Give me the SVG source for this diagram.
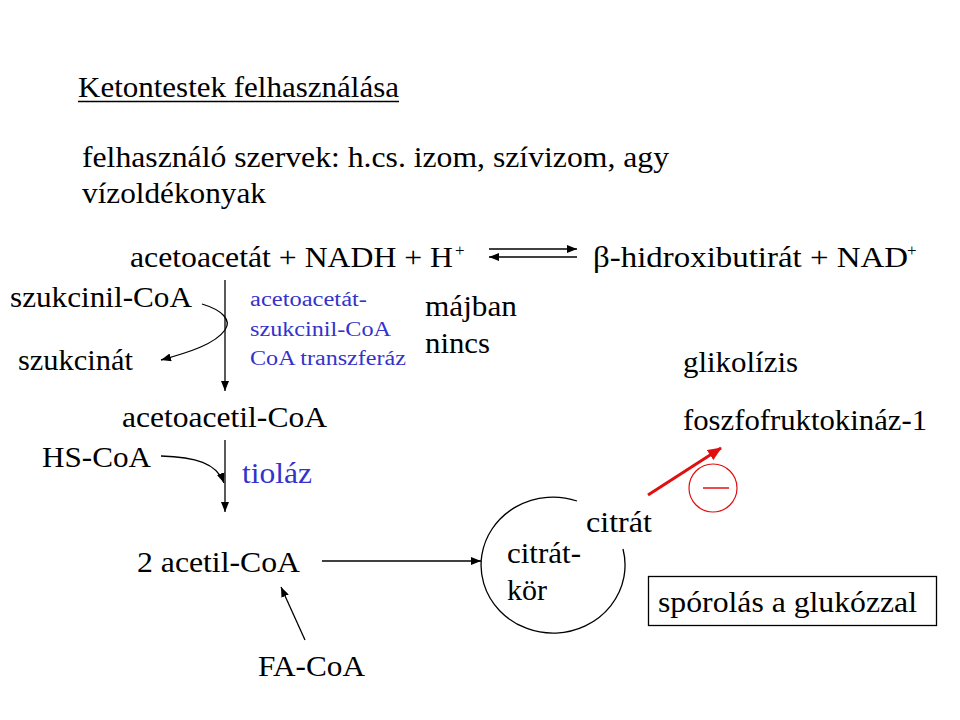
<svg xmlns="http://www.w3.org/2000/svg" width="960" height="720" viewBox="0 0 960 720">
<defs>
<style>
text{font-family:'Liberation Serif','Times New Roman',serif;font-size:30px;fill:#000}
.b{fill:#3333cc}
.s{font-size:20px}
.sup{font-size:17px}
.ln{stroke:#000;stroke-width:1.3;fill:none}
.red{stroke:#e01010;fill:none}
</style>
<marker id="ah" markerUnits="userSpaceOnUse" markerWidth="10" markerHeight="8" refX="10" refY="4" orient="auto"><path d="M0,0 L10,4 L0,8 z" fill="#000"/></marker>
<marker id="rh" markerUnits="userSpaceOnUse" markerWidth="14" markerHeight="12" refX="13" refY="6" orient="auto"><path d="M0,0 L14,6 L0,12 z" fill="#e01010"/></marker>
</defs>
<rect width="960" height="720" fill="#fff"/>
<g font-family="Liberation Serif, Times New Roman, serif">
<g id="title">
<text x="78" y="97" textLength="321" lengthAdjust="spacingAndGlyphs">Ketontestek  felhasználása</text>
<line x1="78" y1="101.5" x2="399" y2="101.5" stroke="#000" stroke-width="1.6"/>
</g>
<g id="intro">
<text x="82" y="167" textLength="587" lengthAdjust="spacingAndGlyphs">felhasználó  szervek:  h.cs.  izom,  szívizom,  agy</text>
<text x="82" y="203" textLength="184" lengthAdjust="spacingAndGlyphs">vízoldékonyak</text>
</g>
<g id="acetoacetat">
<text x="130" y="267" textLength="323" lengthAdjust="spacingAndGlyphs">acetoacetát + NADH + H</text>
<text x="455" y="256" class="sup">+</text>
</g>
<g id="hidroxibutirat">
<text x="593" y="267" textLength="315" lengthAdjust="spacingAndGlyphs">β-hidroxibutirát + NAD</text>
<text x="907" y="256" class="sup">+</text>
</g>
<g id="szukcinilcoa"><text x="10" y="307" textLength="182" lengthAdjust="spacingAndGlyphs">szukcinil-CoA</text></g>
<g id="szukcinat"><text x="18" y="370" textLength="115" lengthAdjust="spacingAndGlyphs">szukcinát</text></g>
<g id="transzferaz">
<text x="250" y="306" class="b s" textLength="117" lengthAdjust="spacingAndGlyphs">acetoacetát-</text>
<text x="250" y="336" class="b s" textLength="141" lengthAdjust="spacingAndGlyphs">szukcinil-CoA</text>
<text x="250" y="365" class="b s" textLength="156" lengthAdjust="spacingAndGlyphs">CoA transzferáz</text>
</g>
<g id="majban">
<text x="425" y="316" textLength="92" lengthAdjust="spacingAndGlyphs">májban</text>
<text x="425" y="353" textLength="65" lengthAdjust="spacingAndGlyphs">nincs</text>
</g>
<g id="acetoacetilcoa"><text x="122" y="427" textLength="205" lengthAdjust="spacingAndGlyphs">acetoacetil-CoA</text></g>
<g id="hscoa"><text x="42" y="467" textLength="109" lengthAdjust="spacingAndGlyphs">HS-CoA</text></g>
<g id="tiolaz"><text x="242" y="483" class="b" textLength="70" lengthAdjust="spacingAndGlyphs">tioláz</text></g>
<g id="acetilcoa"><text x="137" y="572" textLength="163" lengthAdjust="spacingAndGlyphs">2 acetil-CoA</text></g>
<g id="facoa"><text x="258" y="676" textLength="107" lengthAdjust="spacingAndGlyphs">FA-CoA</text></g>
<g id="citratkor">
<path d="M577 501 A72 68 0 1 0 623 549" class="ln" stroke-width="1.2"/>
<text x="507" y="563" textLength="74" lengthAdjust="spacingAndGlyphs">citrát-</text>
<text x="507" y="600" textLength="40" lengthAdjust="spacingAndGlyphs">kör</text>
</g>
<g id="citrat"><text x="586" y="532" textLength="66" lengthAdjust="spacingAndGlyphs">citrát</text></g>
<g id="glikolizis">
<text x="683" y="372" textLength="115" lengthAdjust="spacingAndGlyphs">glikolízis</text>
<text x="683" y="430" textLength="244" lengthAdjust="spacingAndGlyphs">foszfofruktokináz-1</text>
</g>
<g id="inhibition">
<circle cx="713" cy="488" r="24" class="red" stroke-width="1.2"/>
<line x1="703" y1="488" x2="729" y2="488" class="red" stroke-width="1.5"/>
</g>
<g id="sporolas">
<rect x="648.5" y="576.5" width="288" height="49" fill="none" stroke="#000" stroke-width="1.3"/>
<text x="658" y="612" textLength="259" lengthAdjust="spacingAndGlyphs">spórolás a glukózzal</text>
</g>
</g>
<g id="connectors">
<line x1="489" y1="249" x2="577" y2="249" class="ln" marker-end="url(#ah)"/>
<line x1="577" y1="257" x2="489" y2="257" class="ln" marker-end="url(#ah)"/>
<line x1="225" y1="280" x2="225" y2="391" class="ln" marker-end="url(#ah)"/>
<path d="M202 304 C222 310 232 320 225 330 C215 344 190 352 161 360" class="ln" marker-end="url(#ah)"/>
<line x1="225" y1="440" x2="225" y2="512" class="ln" marker-end="url(#ah)"/>
<path d="M161 456 C195 457 217 463 224 483" class="ln" marker-end="url(#ah)"/>
<line x1="322" y1="561" x2="481" y2="561" class="ln" marker-end="url(#ah)"/>
<line x1="305" y1="640" x2="281" y2="587" class="ln" marker-end="url(#ah)"/>
<line x1="648" y1="495" x2="721" y2="448" class="red" stroke-width="3" marker-end="url(#rh)"/>
</g>
</svg>
